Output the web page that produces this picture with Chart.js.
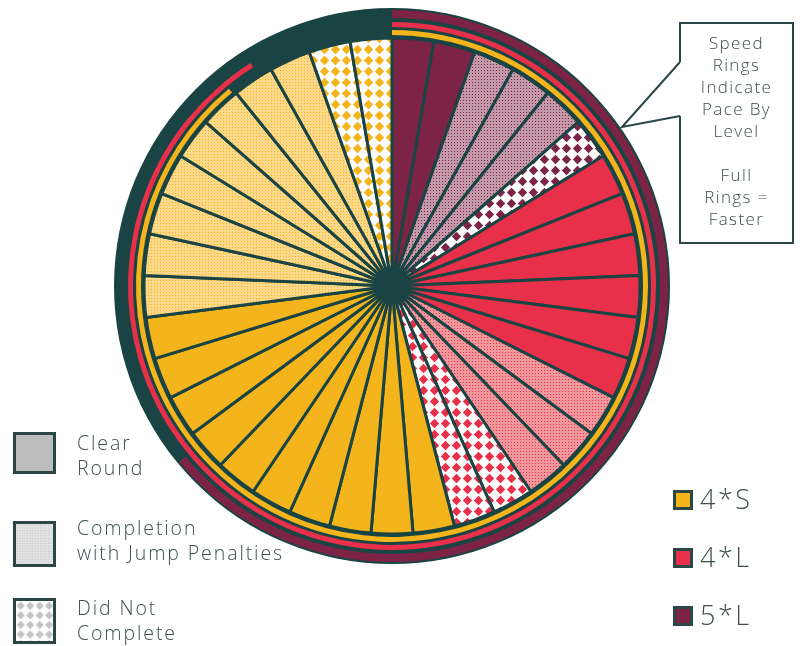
<!DOCTYPE html>
<html>
<head>
<meta charset="utf-8">
<script src="https://cdn.jsdelivr.net/npm/chart.js@4/dist/chart.umd.min.js"></script>
<style>
  html, body { margin: 0; padding: 0; background: #fff; }
  body { width: 800px; height: 646px; position: relative; overflow: hidden;
         font-family: "Open Sans", "Lato", sans-serif; color: #3f4f50; }
  #chart { position: absolute; left: 0; top: 0; }
  .txt { position: absolute; white-space: nowrap; }
  .res { left: 77px; font-size: 19.5px; line-height: 25px; letter-spacing: 1.9px; font-weight: 300; }
  .swatch { position: absolute; box-sizing: border-box; border: 3px solid #2a4646; }
  .lvl { left: 700px; font-size: 27px; line-height: 30px; font-weight: 300; letter-spacing: 2.5px; }
  #note { position: absolute; left: 680px; top: 32px; width: 113px; text-align: center;
          font-size: 17px; line-height: 22px; font-weight: 300; letter-spacing: 1.4px; }
  #callout { position: absolute; left: 0; top: 0; }
</style>
</head>
<body>
<canvas id="chart" width="800" height="646"></canvas>

<svg id="callout" width="800" height="646">
  <path d="M680,62 L680,23 L793,23 L793,243 L680,243 L680,116" fill="#fff" stroke="#2a4646" stroke-width="2"/>
  <path d="M680,62 L622,127 L680,116" fill="none" stroke="#2a4646" stroke-width="2"/>
</svg>
<div id="note">Speed<br>Rings<br>Indicate<br>Pace By<br>Level<br><br>Full<br>Rings =<br>Faster</div>

<!-- result legend -->
<canvas class="swatch" id="sw0" width="43" height="42" style="left:13px;top:432px;width:43px;height:42px"></canvas>
<div class="txt res" style="top:430px">Clear<br>Round</div>
<canvas class="swatch" id="sw1" width="43" height="46" style="left:13px;top:521px;width:43px;height:46px"></canvas>
<div class="txt res" style="top:515px">Completion<br>with Jump Penalties</div>
<canvas class="swatch" id="sw2" width="43" height="46" style="left:13px;top:598px;width:43px;height:46px"></canvas>
<div class="txt res" style="top:595px">Did Not<br>Complete</div>

<!-- level legend -->
<div class="swatch" style="left:673px;top:490px;width:20px;height:20px;background:#f4b41b"></div>
<div class="txt lvl" style="top:484px">4*S</div>
<div class="swatch" style="left:673px;top:548px;width:20px;height:20px;background:#e8304a"></div>
<div class="txt lvl" style="top:542px">4*L</div>
<div class="swatch" style="left:673px;top:606px;width:20px;height:20px;background:#7d2446"></div>
<div class="txt lvl" style="top:600px">5*L</div>

<script>
// rides per level, clockwise from 12 o'clock
const levels = ['5*L', '4*L', '4*S'];
const clearRounds = [2, 6, 10];
const jumpPenalties = [3, 3, 8];
const didNotComplete = [1, 2, 2];
// share of each speed ring that is filled (%)
const paceRing = [64, 91, 89];

const ink = '#1a4444';
const solid = { '5*L': '#7d2446', '4*L': '#e8304a', '4*S': '#f4b41b' };
const tint  = { '5*L': '#c49aab', '4*L': '#f0989b', '4*S': '#fcd98a' };

function stipple(light, dot) {
  const c = document.createElement('canvas');
  c.width = 3; c.height = 3;
  const g = c.getContext('2d');
  g.fillStyle = light; g.fillRect(0, 0, 3, 3);
  g.fillStyle = dot; g.fillRect(1, 1, 1, 1);
  return g.createPattern(c, 'repeat');
}

function diamonds(col) {
  const s = 11, c = document.createElement('canvas');
  c.width = s; c.height = s;
  const g = c.getContext('2d');
  g.fillStyle = '#fdfdfd'; g.fillRect(0, 0, s, s);
  g.fillStyle = col;
  g.beginPath();
  g.moveTo(s / 2, 0.8); g.lineTo(s - 0.8, s / 2); g.lineTo(s / 2, s - 0.8); g.lineTo(0.8, s / 2);
  g.closePath(); g.fill();
  return g.createPattern(c, 'repeat');
}

// one slice per ride
const sliceData = [], sliceFill = [], sliceLabels = [];
levels.forEach((lv, i) => {
  const kinds = [
    [clearRounds[i], solid[lv], 'Clear Round'],
    [jumpPenalties[i], stipple(tint[lv], solid[lv]), 'Completion with Jump Penalties'],
    [didNotComplete[i], diamonds(solid[lv]), 'Did Not Complete']
  ];
  kinds.forEach(([n, fill, name]) => {
    for (let k = 0; k < n; k++) {
      sliceData.push(1);
      sliceFill.push(fill);
      sliceLabels.push(lv + ' ' + name);
    }
  });
});

function ring(lvIdx, weight) {
  const lv = levels[lvIdx];
  return {
    label: lv + ' pace',
    data: [paceRing[lvIdx], 100 - paceRing[lvIdx]],
    backgroundColor: [solid[lv], 'rgba(0,0,0,0)'],
    borderWidth: 0,
    weight: weight
  };
}
function gap(weight) {
  return { data: [1], backgroundColor: ['rgba(0,0,0,0)'], borderWidth: 0, weight: weight };
}

const wheelBack = {
  id: 'wheelBack',
  beforeDatasetsDraw(chart) {
    const a = chart.chartArea, ctx = chart.ctx;
    const cx = (a.left + a.right) / 2, cy = (a.top + a.bottom) / 2;
    ctx.save();
    ctx.fillStyle = ink;
    ctx.beginPath(); ctx.arc(cx, cy, 278, 0, Math.PI * 2); ctx.fill();
    ctx.restore();
  },
  afterDatasetsDraw(chart) {
    const a = chart.chartArea, ctx = chart.ctx;
    const cx = (a.left + a.right) / 2, cy = (a.top + a.bottom) / 2;
    ctx.save();
    ctx.fillStyle = ink;
    ctx.beginPath(); ctx.arc(cx, cy, 17, 0, Math.PI * 2); ctx.fill();
    ctx.restore();
  }
};

new Chart(document.getElementById('chart'), {
  type: 'doughnut',
  data: {
    labels: sliceLabels,
    datasets: [
      gap(2),
      ring(0, 8),
      gap(4),
      ring(1, 5),
      gap(3),
      ring(2, 5),
      gap(3),
      {
        label: 'Rides',
        data: sliceData,
        backgroundColor: sliceFill,
        borderColor: ink,
        borderWidth: 3,
        weight: 248
      }
    ]
  },
  options: {
    responsive: false,
    animation: false,
    radius: 278,
    cutout: 0,
    layout: { padding: { left: 114, right: 130, top: 8, bottom: 82 } },
    plugins: { legend: { display: false }, tooltip: { enabled: false } }
  },
  plugins: [wheelBack]
});

// result legend swatches
const greys = [
  '#bdbdbd',
  stipple('#e2e2e2', '#c4c4c4'),
  diamonds('#c4c4c4')
];
greys.forEach((f, i) => {
  const g = document.getElementById('sw' + i).getContext('2d');
  g.fillStyle = f;
  g.fillRect(0, 0, 43, 46);
});
</script>
</body>
</html>
